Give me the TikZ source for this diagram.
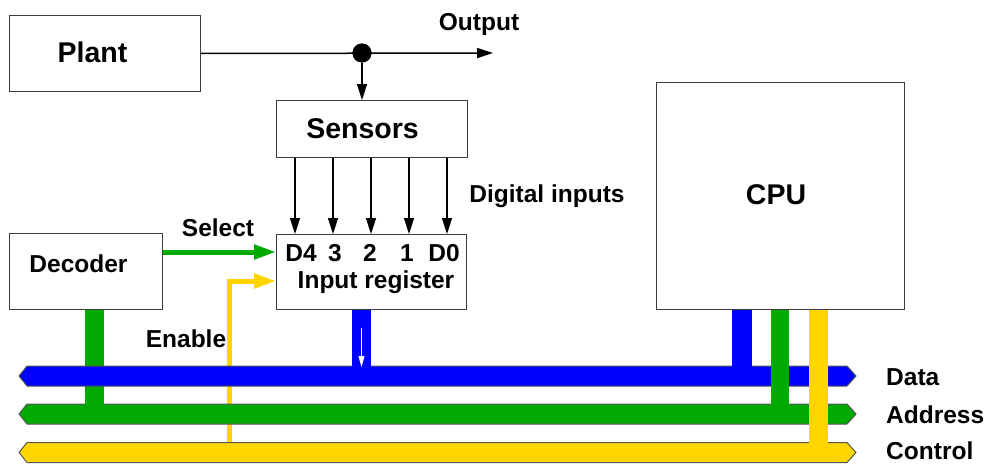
\documentclass[tikz,border=0pt]{standalone}
\usepackage{fontspec}
\setmainfont{Liberation Sans}
\usetikzlibrary{arrows.meta,calc}
\definecolor{busblue}{RGB}{0,0,255}
\definecolor{busgreen}{RGB}{0,170,0}
\definecolor{busyellow}{RGB}{255,213,0}
\definecolor{busedge}{RGB}{85,85,85}
\definecolor{boxedge}{RGB}{60,60,60}

% a horizontal bus with pointed ends: colour, centre line y
\newcommand\drawbus[2]{%
  \filldraw[fill=#1, draw=busedge, line width=1pt]
    (19,#2) -- (27,#2-10) -- (847,#2-10) -- (856,#2) -- (847,#2+10) -- (27,#2+10) -- cycle;}

\begin{document}
\begin{tikzpicture}[x=1pt,y=-1pt,
  box/.style={draw=boxedge, line width=1pt, fill=white, inner sep=0pt, anchor=north west},
  big/.style={font=\fontsize{28.5}{30}\selectfont\bfseries, inner sep=0pt},
  lbl/.style={font=\fontsize{24.5}{26}\selectfont\bfseries, inner sep=0pt},
  sig/.style={line width=1.5pt, -{Triangle[length=16pt,width=10pt]}},
  selectsig/.style={busgreen, line width=5pt, -{Triangle[length=22pt,width=14pt]}},
  enablesig/.style={busyellow, line width=5pt, -{Triangle[length=22pt,width=14pt]}},
  tap/.style={white, line width=1.2pt, -{Triangle[length=11pt,width=6pt]}},
]
\useasboundingbox (0,0) rectangle (987,463);

% boxes
\node[box, minimum width=191pt, minimum height=76pt] (plant) at (9,15) {};
\node[box, minimum width=191pt, minimum height=57pt] (sens) at (276,100) {};
\node[box, minimum width=190pt, minimum height=75pt] (reg) at (276,234) {};
\node[box, minimum width=153pt, minimum height=76pt] (dec) at (9,233) {};
\node[box, minimum width=248pt, minimum height=227pt] (cpu) at (656,82) {};

% box texts
\node[big] (plantlbl) at (92.5,52) {Plant};
\node[big] (senslbl) at (362.5,129) {Sensors};
\node[big] (cpulbl) at (776,195) {CPU};
\node[lbl] (declbl) at (78.5,264) {Decoder};
\node[lbl] (reglbl) at (376,282) {Input register};
\node[lbl] (bD4) at (301,253) {D4};
\node[lbl] (bD3) at (335,253) {3};
\node[lbl] (bD2) at (370,253) {2};
\node[lbl] (bD1) at (407,253) {1};
\node[lbl] (bD0) at (444,253) {D0};

% plant output and sensor tap
\node[circle, fill=black, inner sep=0pt, minimum size=19pt] (dot) at (362,53) {};
\coordinate (out) at (493,53);
\draw[sig] (plant.east) -- (out);
\node[circle, fill=black, inner sep=0pt, minimum size=19pt] at (dot) {};
\draw[sig] (dot) -- (dot |- sens.north);
\node[lbl] (outlbl) at (479,24) {Output};

% digital inputs
\foreach \x [count=\i] in {295,333,371,409,447} {
  \coordinate (col\i) at (\x,0);
  \draw[sig] (sens.south -| col\i) -- (reg.north -| col\i);
}
\node[lbl] (diglbl) at (547,196) {Digital inputs};

% select and enable
\coordinate (selrow) at (0,252);
\coordinate (enrow) at (0,281);
\coordinate (enbase) at (229,452);
\draw[selectsig] (dec.east |- selrow) -- (reg.west |- selrow);
\node[lbl] (sellbl) at (218,228) {Select};
\draw[enablesig] (enbase) -- (enbase |- enrow) -- (reg.west |- enrow);
\node[lbl] (enlbl) at (186,339) {Enable};

% buses
\drawbus{busgreen}{414}
\drawbus{busyellow}{452.5}
\fill[busgreen] (85,309.5) rectangle (104,405);
\drawbus{busblue}{376}

% stubs from register and CPU
\fill[busblue] (352,309.5) rectangle (371,367);
\draw[tap] (361.5,328) -- (361.5,367);
\fill[busblue] (732,309.5) rectangle (752,367);
\fill[busgreen] (771,309.5) rectangle (789,405);
\fill[busyellow] (809,309.5) rectangle (828,443.5);

% bus names
\node[lbl, anchor=west] (datalbl) at (886,377) {Data};
\node[lbl, anchor=west] (addrlbl) at (886,415) {Address};
\node[lbl, anchor=west] (ctrllbl) at (886,451) {Control};
\end{tikzpicture}
\end{document}
